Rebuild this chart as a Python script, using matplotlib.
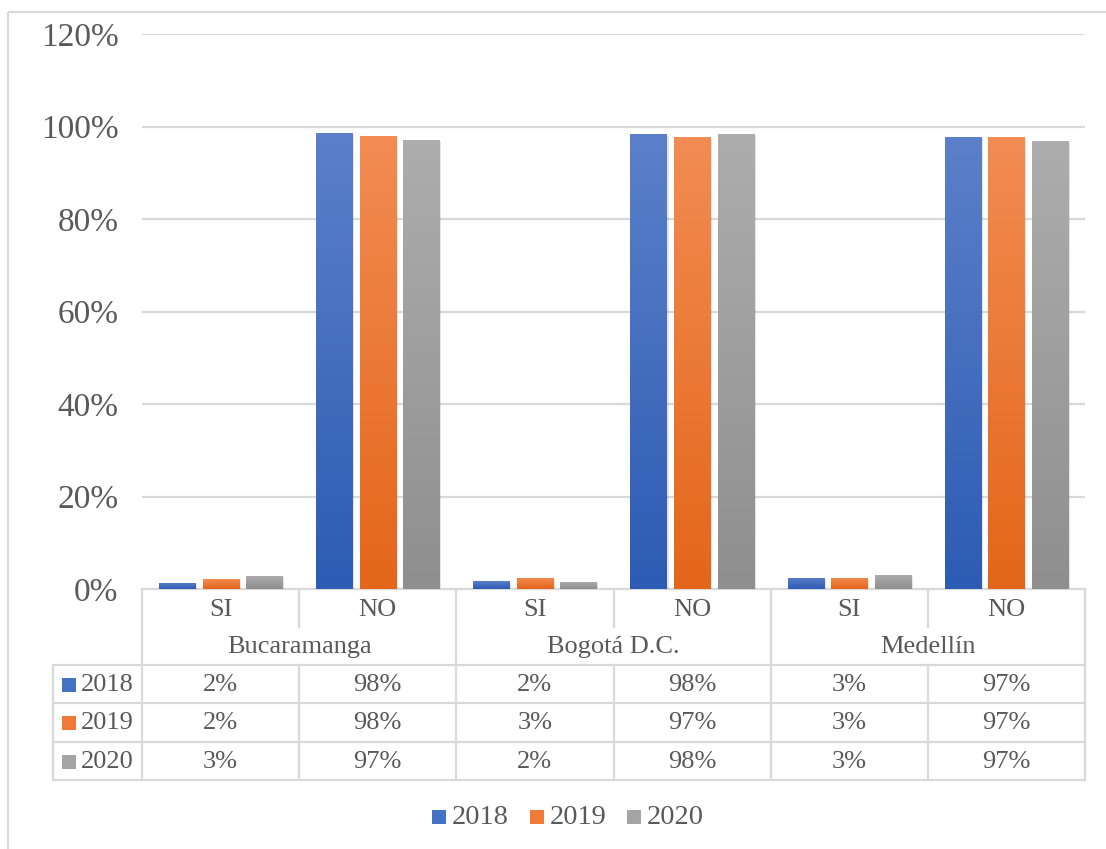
import matplotlib
matplotlib.use("Agg")
import matplotlib.pyplot as plt
import numpy as np
from matplotlib.patches import Rectangle
from matplotlib.lines import Line2D
from matplotlib.colors import LinearSegmentedColormap

plt.rcParams['font.family'] = ['Liberation Serif', 'DejaVu Serif']

# ---- data ----
cities = ["Bucaramanga", "Bogotá D.C.", "Medellín"]
answers = ["SI", "NO"]
series = ["2018", "2019", "2020"]
# bar values (%), order: Buc SI, Buc NO, Bog SI, Bog NO, Med SI, Med NO
v2018 = [1.4, 98.6, 1.7, 98.4, 2.4, 97.7]
v2019 = [2.1, 97.9, 2.4, 97.7, 2.4, 97.7]
v2020 = [2.9, 97.1, 1.6, 98.4, 3.1, 96.9]
# data table labels
t2018 = ["2%", "98%", "2%", "98%", "3%", "97%"]
t2019 = ["2%", "98%", "3%", "97%", "3%", "97%"]
t2020 = ["3%", "97%", "2%", "98%", "3%", "97%"]
yticks = [0, 20, 40, 60, 80, 100, 120]

values = [v2018, v2019, v2020]
tables = [t2018, t2019, t2020]
grad = [("#5B80C9", "#2D5CB4"), ("#F28C52", "#E4661A"), ("#ADADAD", "#8F8F8F")]
legend_cols = ["#4472C4", "#F07B38", "#A5A5A5"]
TXT = "#595959"
GRID = "#D9D9D9"
FS = 19
FS_TICK = 24
FS_LEG = 20.5

W, H = 1106, 849
fig = plt.figure(figsize=(W / 100, H / 100), dpi=100)
fig.patch.set_facecolor("white")

# pixel geometry of plot area
X0, X1, YT, YB = 142, 1085, 34, 589
ax = fig.add_axes([X0 / W, 1 - YB / H, (X1 - X0) / W, (YB - YT) / H])
ax.set_facecolor("none")
ncat = len(cities) * len(answers)
for s in ax.spines.values():
    s.set_visible(False)
ax.set_xticks([])
ax.set_yticks(yticks)
ax.set_yticklabels([f"{t}%" for t in yticks], fontsize=FS_TICK, color=TXT)
ax.tick_params(axis="y", length=0, pad=17)
for t in yticks[1:]:
    ax.axhline(t, color=GRID, lw=1.6, zorder=0)

xc = np.arange(ncat) + 0.5
bw, step = 0.23, 0.277
for k, (vals, (ctop, cbot)) in enumerate(zip(values, grad)):
    xs = xc + (k - 1) * step
    # soft shadow
    ax.bar(xs + 0.012, vals, bw, bottom=-0.4, color="#000000", alpha=0.10, zorder=1, lw=0)
    bars = ax.bar(xs, vals, bw, color=cbot, zorder=2, lw=0)
    cmap = LinearSegmentedColormap.from_list(f"g{k}", [cbot, ctop])
    for r in bars:
        x0, y0 = r.get_x(), r.get_y()
        w, h = r.get_width(), r.get_height()
        g = np.linspace(0, 1, 64).reshape(-1, 1)
        im = ax.imshow(g, cmap=cmap, extent=[x0, x0 + w, y0, y0 + h], origin="lower",
                       aspect="auto", zorder=3, interpolation="bilinear")
        im.set_clip_path(r)
ax.set_xlim(0, ncat)
ax.set_ylim(0, 120)

# ---- overlay in pixel coordinates for table, legend, border ----
ov = fig.add_axes([0, 0, 1, 1])
ov.set_xlim(0, W)
ov.set_ylim(H, 0)
ov.axis("off")
ov.set_zorder(-1)

def hl(y, xa, xb):
    ov.add_line(Line2D([xa, xb], [y, y], color=GRID, lw=1.6))

def vl(x, ya, yb):
    ov.add_line(Line2D([x, x], [ya, yb], color=GRID, lw=1.6))

# outer chart border
ov.add_patch(Rectangle((8, 12), 1120, 900, fill=False, ec=GRID, lw=1.6))

colw = (X1 - X0) / ncat
ROW1, ROW2, TTOP = 589, 627, 665
rowh = 38.3
TBOT = TTOP + 3 * rowh
LCOL = 53

hl(ROW1, X0, X1)
for j in range(ncat + 1):
    x = X0 + j * colw
    if j % 2 == 0:
        vl(x, ROW1, TBOT)
    else:
        vl(x, ROW1, ROW2)
        vl(x, TTOP, TBOT)
for i in range(4):
    hl(TTOP + i * rowh, LCOL, X1)
vl(LCOL, TTOP, TBOT)

# category labels
for j in range(ncat):
    ov.text(X0 + (j + 0.5) * colw, (ROW1 + ROW2) / 2 + 2, answers[j % 2],
            ha="center", va="center", fontsize=FS, color=TXT)
for c, name in enumerate(cities):
    ov.text(X0 + (2 * c + 1) * colw, (ROW2 + TTOP) / 2 + 1, name,
            ha="center", va="center", fontsize=FS, color=TXT)

# data table rows
for i, (lab, row) in enumerate(zip(series, tables)):
    yc = TTOP + (i + 0.5) * rowh + 1
    ov.add_patch(Rectangle((62, yc - 7), 14, 14, color=legend_cols[i], lw=0))
    ov.text(81, yc, lab, ha="left", va="center", fontsize=FS, color=TXT)
    for j, s in enumerate(row):
        ov.text(X0 + (j + 0.5) * colw, yc, s, ha="center", va="center", fontsize=FS, color=TXT)

# legend
lx = [432, 530, 627]
for i, lab in enumerate(series):
    ov.add_patch(Rectangle((lx[i], 810), 14, 14, color=legend_cols[i], lw=0))
    ov.text(lx[i] + 20, 817, lab, ha="left", va="center", fontsize=FS_LEG, color=TXT)

fig.savefig("out.png", dpi=100, facecolor="white")
